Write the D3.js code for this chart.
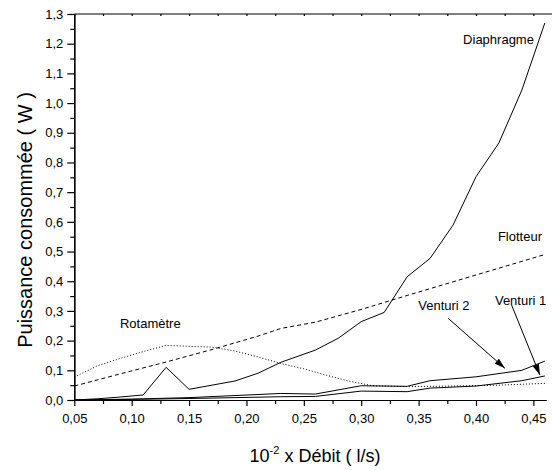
<!DOCTYPE html>
<html>
<head>
<meta charset="utf-8">
<script src="https://cdn.jsdelivr.net/npm/d3@7"></script>
<style>
  body { margin: 0; background: #fff; }
  svg { display: block; font-family: "Liberation Sans", Arial, sans-serif; }
</style>
</head>
<body>
<div id="graphe"></div>
<script>
// valeurs (débit en 10^-2 l/s, puissance en W)
const diaphragmeX = [0.05, 0.07, 0.09, 0.11, 0.13, 0.15, 0.17, 0.19, 0.21, 0.23, 0.26, 0.28, 0.30, 0.32, 0.34, 0.36, 0.38, 0.40, 0.42, 0.44, 0.46];
const diaphragmeY = [0.0, 0.004, 0.01, 0.017, 0.11, 0.036, 0.05, 0.064, 0.09, 0.127, 0.168, 0.208, 0.264, 0.295, 0.415, 0.477, 0.589, 0.752, 0.866, 1.044, 1.27];

const flotteurX = [0.05, 0.09, 0.13, 0.17, 0.21, 0.23, 0.26, 0.30, 0.34, 0.38, 0.42, 0.46];
const flotteurY = [0.047, 0.088, 0.128, 0.17, 0.215, 0.241, 0.262, 0.305, 0.352, 0.398, 0.444, 0.49];

const rotametreX = [0.05, 0.07, 0.09, 0.11, 0.13, 0.15, 0.17, 0.19, 0.21, 0.23, 0.25, 0.27, 0.29, 0.31, 0.34, 0.38, 0.42, 0.46];
const rotametreY = [0.077, 0.115, 0.14, 0.163, 0.184, 0.181, 0.178, 0.165, 0.145, 0.123, 0.105, 0.083, 0.063, 0.048, 0.045, 0.047, 0.05, 0.056];

const venturiX = [0.05, 0.10, 0.15, 0.19, 0.23, 0.26, 0.30, 0.34, 0.36, 0.40, 0.44, 0.46];
const venturi2Y = [0.0, 0.003, 0.008, 0.015, 0.022, 0.02, 0.048, 0.046, 0.065, 0.078, 0.1, 0.131];
const venturi1Y = [0.0, 0.002, 0.005, 0.008, 0.011, 0.012, 0.03, 0.028, 0.04, 0.047, 0.065, 0.081];

const ticksX = [0.05, 0.10, 0.15, 0.20, 0.25, 0.30, 0.35, 0.40, 0.45];
const ticksXMineurs = [0.075, 0.125, 0.175, 0.225, 0.275, 0.325, 0.375, 0.425];
const ticksY = [0, 0.1, 0.2, 0.3, 0.4, 0.5, 0.6, 0.7, 0.8, 0.9, 1.0, 1.1, 1.2, 1.3];
const ticksYMineurs = [0.05, 0.15, 0.25, 0.35, 0.45, 0.55, 0.65, 0.75, 0.85, 0.95, 1.05, 1.15, 1.25];

// étiquettes : [texte, x, y, ancrage]
const etiquettes = [
    ["Diaphragme", 0.4505, 1.20, "end"],
    ["Flotteur", 0.4575, 0.536, "end"],
    ["Venturi 2", 0.3497, 0.303, "start"],
    ["Venturi 1", 0.4165, 0.320, "start"],
    ["Rotamètre", 0.0898, 0.241, "start"]
];
// flèches : [x départ, y départ, x pointe, y pointe]
const fleches = [
    [0.3758, 0.275, 0.4252, 0.1067],
    [0.4310, 0.320, 0.4557, 0.084]
];

const largeur = 552, hauteur = 470;
const marge = { haut: 14, droite: 6, bas: 70, gauche: 74.3 };

const x = d3.scaleLinear()
    .domain([0.05, 0.461])
    .range([marge.gauche, largeur - marge.droite]);
const y = d3.scaleLinear()
    .domain([0, 1.3])
    .range([hauteur - marge.bas, marge.haut]);

const virgule = d => d3.format(".2f")(d).replace(".", ",");
const virguleY = d => d3.format(".1f")(d).replace(".", ",");

const $svg = d3.select("#graphe")
    .append("svg")
    .attr("width", largeur)
    .attr("height", hauteur);

$svg.append("defs").append("marker")
    .attr("id", "pointe")
    .attr("viewBox", "0 0 10 6")
    .attr("refX", 10)
    .attr("refY", 3)
    .attr("markerUnits", "userSpaceOnUse")
    .attr("markerWidth", 11)
    .attr("markerHeight", 6.5)
    .attr("orient", "auto")
    .append("path")
    .attr("d", "M0,0 L10,3 L0,6 Z")
    .attr("fill", "#000");

// axe du bas
$svg.append("g")
    .attr("transform", `translate(0,${y(0)})`)
    .call(d3.axisBottom(x).tickValues(ticksX).tickFormat(virgule).tickSize(6).tickSizeOuter(0).tickPadding(8));
$svg.append("g")
    .attr("transform", `translate(0,${y(0)})`)
    .call(d3.axisBottom(x).tickValues(ticksXMineurs).tickFormat("").tickSize(4).tickSizeOuter(0));

// axe de gauche
$svg.append("g")
    .attr("transform", `translate(${x(0.05)},0)`)
    .call(d3.axisLeft(y).tickValues(ticksY).tickFormat(virguleY).tickSize(7).tickSizeOuter(0).tickPadding(4));
$svg.append("g")
    .attr("transform", `translate(${x(0.05)},0)`)
    .call(d3.axisLeft(y).tickValues(ticksYMineurs).tickFormat("").tickSize(4).tickSizeOuter(0));

// bord du haut
$svg.append("line")
    .attr("x1", x(0.05)).attr("x2", largeur)
    .attr("y1", y(1.3)).attr("y2", y(1.3))
    .attr("stroke", "#000").attr("stroke-width", 1.2);
$svg.append("g")
    .attr("transform", `translate(0,${y(1.3)})`)
    .call(d3.axisBottom(x).tickValues(ticksX.concat(ticksXMineurs)).tickFormat("").tickSize(2).tickSizeOuter(0))
    .select(".domain").remove();

$svg.selectAll(".tick text")
    .attr("font-size", 13)
    .attr("font-family", "Liberation Sans, Arial, sans-serif")
    .attr("fill", "#000");
$svg.selectAll(".domain, .tick line").attr("stroke", "#000").attr("stroke-width", 1.2);

// courbes
const ligne = d3.line().x(d => x(d[0])).y(d => y(d[1]));
const courbes = [
    { px: diaphragmeX, py: diaphragmeY, tirets: null },
    { px: flotteurX, py: flotteurY, tirets: "4,3" },
    { px: rotametreX, py: rotametreY, tirets: "1,2" },
    { px: venturiX, py: venturi2Y, tirets: null },
    { px: venturiX, py: venturi1Y, tirets: null }
];
courbes.forEach(c => {
    $svg.append("path")
        .datum(c.px.map((v, i) => [v, c.py[i]]))
        .attr("d", ligne)
        .attr("fill", "none")
        .attr("stroke", "#000")
        .attr("stroke-width", 1)
        .attr("stroke-dasharray", c.tirets);
});

// annotations
$svg.selectAll(".etiquette")
    .data(etiquettes)
    .enter()
    .append("text")
    .attr("class", "etiquette")
    .attr("x", d => x(d[1]))
    .attr("y", d => y(d[2]))
    .attr("text-anchor", d => d[3])
    .attr("font-size", 13)
    .text(d => d[0]);

$svg.selectAll(".fleche")
    .data(fleches)
    .enter()
    .append("line")
    .attr("class", "fleche")
    .attr("x1", d => x(d[0])).attr("y1", d => y(d[1]))
    .attr("x2", d => x(d[2])).attr("y2", d => y(d[3]))
    .attr("stroke", "#000")
    .attr("stroke-width", 1)
    .attr("marker-end", "url(#pointe)");

// titres des axes
const titreX = $svg.append("text")
    .attr("x", 315)
    .attr("y", 462)
    .attr("text-anchor", "middle")
    .attr("font-size", 18);
titreX.append("tspan").text("10");
titreX.append("tspan").attr("dy", -8).attr("font-size", 11).text("-2");
titreX.append("tspan").attr("dy", 8).text(" x Débit ( l/s)");

$svg.append("text")
    .attr("transform", `translate(32,${(y(0) + y(1.3)) / 2 + 13}) rotate(-90)`)
    .attr("text-anchor", "middle")
    .attr("font-size", 20)
    .text("Puissance consommée ( W )");
</script>
</body>
</html>
